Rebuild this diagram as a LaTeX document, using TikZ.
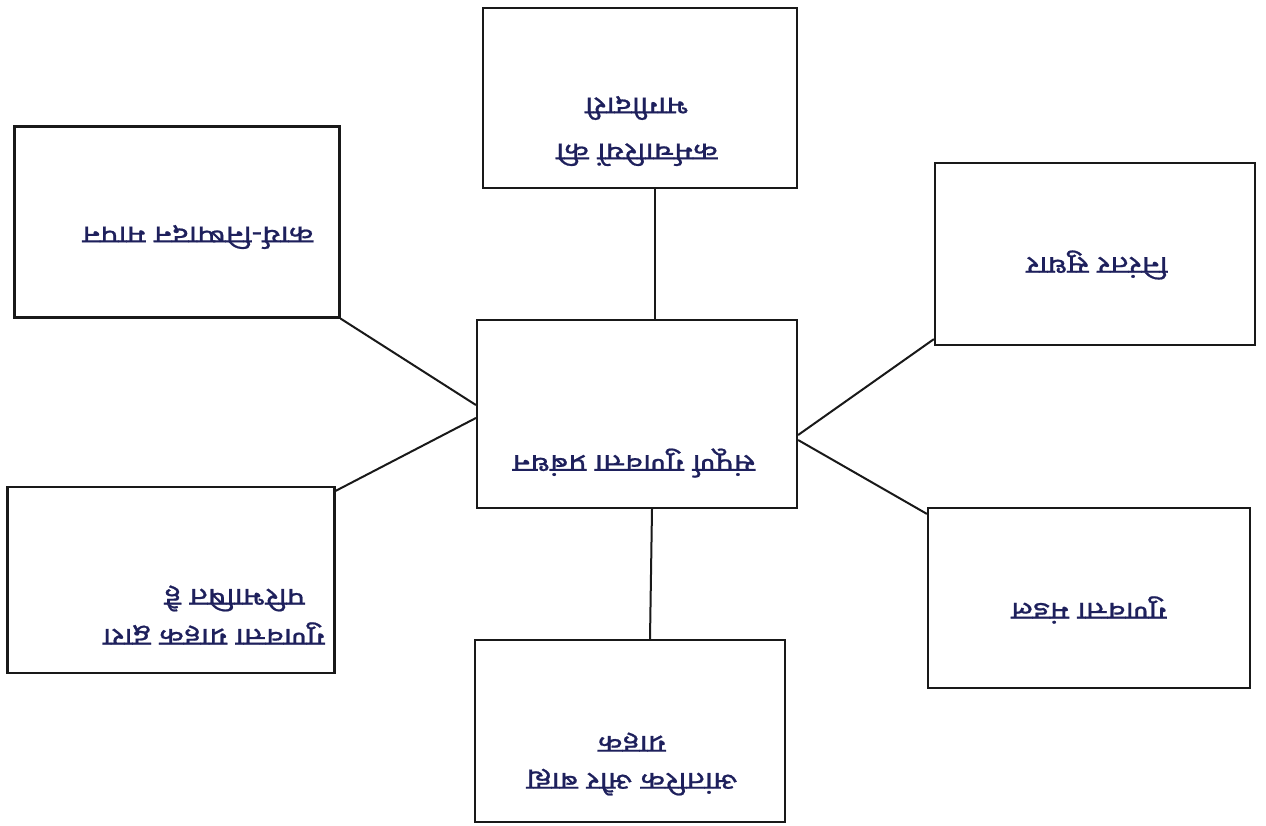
\documentclass[tikz,border=0pt]{standalone}
\usepackage{fontspec}
\newfontfamily\hindi[Script=Devanagari, FakeStretch=1.28, FakeBold=0.8]{Noto Sans}
\definecolor{inkblue}{RGB}{30,32,92}
\tikzset{
  box/.style={draw=black!90, line width=2.2pt, inner sep=0pt},
  txt/.style={rotate=180, text=inkblue, align=center, font=\hindi\fontsize{25}{46}\selectfont},
  link/.style={line width=2pt, black!90}
}

\begin{document}
\begin{tikzpicture}[x=1pt, y=-1pt]
  \useasboundingbox (0,0) rectangle (1266,825);

  % boxes
  \node[box, minimum width=320pt, minimum height=188pt] (cen) at (637,414) {};
  \node[box, minimum width=314pt, minimum height=180pt] (top) at (640,98) {};
  \node[box, minimum width=325pt, minimum height=191pt] (tl) at (177,222) {};
  \node[box, minimum width=320pt, minimum height=182pt] (tr) at (1095,254) {};
  \node[box, minimum width=327pt, minimum height=186pt] (bl) at (171,580) {};
  \node[box, minimum width=322pt, minimum height=180pt] (br) at (1089,598) {};
  \node[box, minimum width=310pt, minimum height=182pt] (bot) at (630,731) {};

  % texts (the sheet is upside down)
  \node[txt] (cenT) at (634,463) {संपूर्ण गुणवत्ता प्रबंधन};
  \node[txt] (topT) at (637,131) {कर्मचारियों की\\भागीदारी};
  \node[txt] (tlT) at (198,237) {कार्य-निष्पादन मापन};
  \node[txt] (trT) at (1097,265) {निरंतर सुधार};
  \node[txt, align=left, font=\hindi\fontsize{25}{40}\selectfont] (blT) at (214,615)
    {गुणवत्ता ग्राहक द्वारा\\\hspace*{20pt}परिभाषित है};
  \node[txt] (brT) at (1089,610) {गुणवत्ता मंडल};
  \node[txt, font=\hindi\fontsize{25}{37}\selectfont] (botT) at (632,764) {आंतरिक और बाह्य\\ग्राहक};

  % connectors
  \draw[link] ([xshift=15pt]top.south) -- ([xshift=18pt]cen.north);
  \draw[link] ([xshift=15pt]cen.south) -- ([xshift=20pt]bot.north);
  \draw[link] (tl.south east) -- ([yshift=9pt]cen.west);
  \draw[link] ([yshift=-5pt]bl.north east) -- ([yshift=-4pt]cen.west);
  \draw[link] ([yshift=7pt]tr.south west) -- ([yshift=-21pt]cen.east);
  \draw[link] ([yshift=-7pt]br.north west) -- ([yshift=-26pt]cen.east);
\end{tikzpicture}
\end{document}
